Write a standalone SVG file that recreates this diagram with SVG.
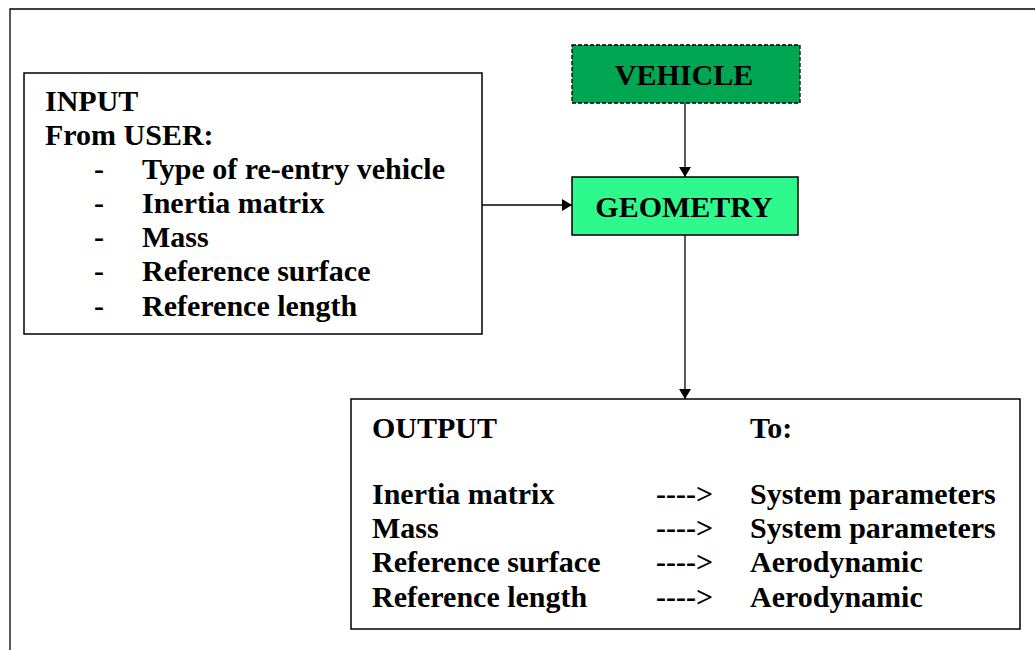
<svg xmlns="http://www.w3.org/2000/svg" width="1035" height="650" viewBox="0 0 1035 650">
<defs>
<style>
.t{font-family:"Liberation Serif","Times New Roman",serif;font-weight:bold;font-size:30px;fill:#000}
.box{fill:#fff;stroke:#000;stroke-width:1.5}
.ln{stroke:#000;stroke-width:1.3;fill:none}
</style>
<marker id="ah" viewBox="0 0 10 10" refX="10" refY="5" markerWidth="10" markerHeight="12" markerUnits="userSpaceOnUse" orient="auto" preserveAspectRatio="none">
<path d="M0,0 L10,5 L0,10 z" fill="#000"/>
</marker>
</defs>
<rect width="1035" height="650" fill="#fff"/>
<g id="frame"><path d="M10,650 L10,9 L1035,9" class="ln" stroke-width="1.8"/></g>
<g id="input">
<rect x="24" y="73" width="458" height="261" class="box"/>
<text class="t" x="45" y="111">INPUT</text>
<text class="t" x="45" y="145">From USER:</text>
<text class="t" x="94" y="179">-</text><text class="t" x="142" y="179">Type of re-entry vehicle</text>
<text class="t" x="94" y="213">-</text><text class="t" x="142" y="213">Inertia matrix</text>
<text class="t" x="94" y="247">-</text><text class="t" x="142" y="247">Mass</text>
<text class="t" x="94" y="281">-</text><text class="t" x="142" y="281">Reference surface</text>
<text class="t" x="94" y="316">-</text><text class="t" x="142" y="316">Reference length</text>
</g>
<g id="vehicle">
<rect x="572" y="45" width="228" height="58" fill="#00a651" stroke="#000" stroke-width="1.3" stroke-dasharray="4,2"/>
<text class="t" x="684" y="85" text-anchor="middle">VEHICLE</text>
</g>
<g id="geometry">
<rect x="572" y="177" width="226" height="58" fill="#2ef98c" stroke="#000" stroke-width="1.5"/>
<text class="t" x="684" y="217" text-anchor="middle">GEOMETRY</text>
</g>
<g id="output">
<rect x="351" y="399" width="669" height="230" class="box"/>
<text class="t" x="372" y="438">OUTPUT</text>
<text class="t" x="750" y="438">To:</text>
<text class="t" x="372" y="504">Inertia matrix</text><text class="t" x="656" y="504">----&gt;</text><text class="t" x="750" y="504">System parameters</text>
<text class="t" x="372" y="538">Mass</text><text class="t" x="656" y="538">----&gt;</text><text class="t" x="750" y="538">System parameters</text>
<text class="t" x="372" y="572">Reference surface</text><text class="t" x="656" y="572">----&gt;</text><text class="t" x="750" y="572">Aerodynamic</text>
<text class="t" x="372" y="607">Reference length</text><text class="t" x="656" y="607">----&gt;</text><text class="t" x="750" y="607">Aerodynamic</text>
</g>
<g id="connectors">
<path d="M685,103 L685,177" class="ln" marker-end="url(#ah)"/>
<path d="M482,205 L572,205" class="ln" marker-end="url(#ah)"/>
<path d="M685,235 L685,399" class="ln" marker-end="url(#ah)"/>
</g>
</svg>
